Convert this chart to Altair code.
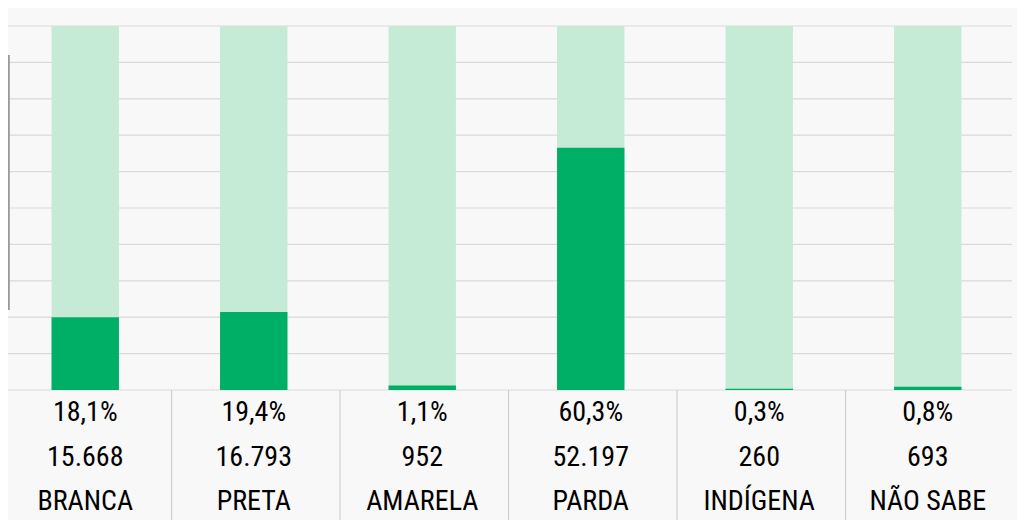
import altair as alt
import pandas as pd

# ---- data ----
categorias = ["BRANCA", "PRETA", "AMARELA", "PARDA", "INDÍGENA", "NÃO SABE"]
percentuais = [18.1, 19.4, 1.1, 60.3, 0.3, 0.8]
rotulos_pct = ["18,1%", "19,4%", "1,1%", "60,3%", "0,3%", "0,8%"]
quantidades = ["15.668", "16.793", "952", "52.197", "260", "693"]
escala_max = 90.6
grade = [round(escala_max * i / 10, 3) for i in range(11)]

df = pd.DataFrame({
    "cat": categorias,
    "pct": percentuais,
    "rot": rotulos_pct,
    "qtd": quantidades,
    "total": [escala_max] * len(categorias),
})
df_grade = pd.DataFrame({"v": grade})
df_sep = df.iloc[:-1]

FONT = "'Roboto Condensed', 'DejaVu Sans Condensed', sans-serif"
W, H = 1004, 364

xs = alt.Scale(domain=categorias, range=[-7, W], paddingInner=0.6, paddingOuter=0.3)
ys = alt.Scale(domain=[0, escala_max], nice=False, zero=True)

base = alt.Chart(df)

grid = alt.Chart(df_grade).mark_rule(color="#d9d9d9", strokeWidth=1.2).encode(
    y=alt.Y("v:Q", scale=ys, axis=None),
    x=alt.value(-7), x2=alt.value(W),
)

fundo = base.mark_bar(color="#c5ebd6").encode(
    x=alt.X("cat:N", scale=xs, axis=None, sort=categorias),
    y=alt.Y("total:Q", scale=ys, axis=None),
)

barras = base.mark_bar(color="#00af66").encode(
    x=alt.X("cat:N", scale=xs, axis=None, sort=categorias),
    y=alt.Y("pct:Q", scale=ys, axis=None),
)

sep = alt.Chart(df_sep).mark_rule(color="#cfcfcf", strokeWidth=1.2, xOffset=52.6).encode(
    x=alt.X("cat:N", scale=xs, axis=None, sort=categorias, bandPosition=1),
    y=alt.value(H), y2=alt.value(H + 133),
)

linha_esq = base.mark_rule(color="#9a9a9a", strokeWidth=1.5).encode(
    x=alt.value(0.5), y=alt.value(29), y2=alt.value(284),
)

def texto(campo, ypix):
    return base.mark_text(font=FONT, fontSize=28, fontWeight=400, color="#000000",
                          baseline="middle").encode(
        x=alt.X("cat:N", scale=xs, axis=None, sort=categorias),
        y=alt.value(ypix),
        text=f"{campo}:N",
    )

t1 = texto("rot", 387)
t2 = texto("qtd", 432)
t3 = texto("cat", 476)

chart = alt.layer(grid, fundo, barras, sep, linha_esq, t1, t2, t3).properties(
    width=W, height=H,
    autosize=alt.AutoSizeParams(type="none"),
    padding={"left": 0, "top": 18, "right": 5, "bottom": 130},
    background="#f8f8f8",
).configure_view(stroke=None)

chart.save("out.html", embed_options={"renderer": "svg", "actions": False})
